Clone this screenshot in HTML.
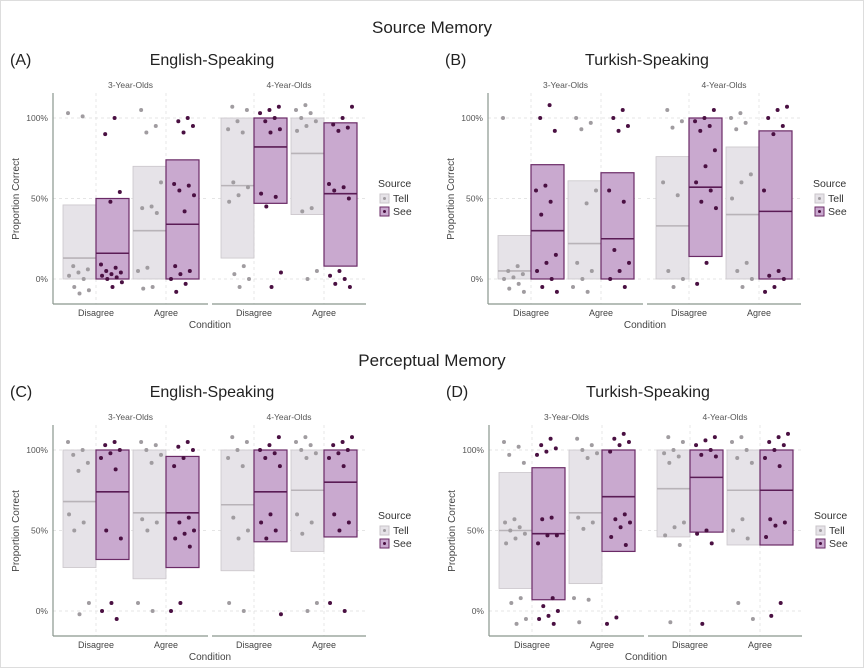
<!DOCTYPE html>
<html><head><meta charset="utf-8">
<style>
body{margin:0;background:#fff;}
svg{display:block;font-family:"Liberation Sans",sans-serif;}
</style></head>
<body>
<svg id="fig" width="864" height="668" viewBox="0 0 864 668">
<rect x="0.5" y="0.5" width="863" height="667" fill="#fff" stroke="#ddd"/>
<text x="432" y="33" font-size="17" text-anchor="middle" fill="#222">Source Memory</text>
<text x="432" y="366" font-size="17" text-anchor="middle" fill="#222">Perceptual Memory</text>
</svg>
<script>
// Stats per group: [lower, median, upper] in percent. Order: F1-Dis-Tell, F1-Dis-See, F1-Agr-Tell, F1-Agr-See, F2-Dis-Tell, F2-Dis-See, F2-Agr-Tell, F2-Agr-See
const boxesA=[[0,13,46],[0,16,50],[0,30,70],[0,34,74],[13,58,100],[47,82,100],[40,78,100],[8,53,97]];
const boxesB=[[0,5,27],[0,30,71],[0,22,61],[0,25,66],[0,33,76],[14,57,100],[0,40,82],[0,42,92]];
const boxesC=[[27,68,100],[32,74,100],[20,61,100],[27,61,96],[25,66,100],[43,74,100],[37,75,100],[46,80,100]];
const boxesD=[[14,50,86],[7,48,89],[17,61,100],[37,71,100],[46,76,100],[49,83,100],[41,75,100],[41,75,100]];
const pointsA=[[103,101,8,6,4,2,0,-5,-7,-9],[100,90,54,48,9,7,5,4,3,2,1,0,-2,-5],[105,95,91,60,45,44,41,7,5,-5,-6],[100,98,95,91,59,58,55,52,42,8,5,3,0,-3,-8],
[107,105,98,93,91,60,57,52,48,8,3,0,-5],[107,105,103,100,98,93,91,53,51,45,4,-5],[108,105,103,100,98,95,92,44,42,5,0],[107,100,96,94,92,59,57,55,50,5,2,0,-3,-5]];
const pointsB=[[100,8,5,3,1,0,-3,-6,-8],[108,100,92,58,55,48,40,15,10,5,0,-5,-8],[100,97,93,55,47,10,5,0,-5,-8],[105,100,95,92,55,48,18,10,5,0,-5],
[105,98,94,60,52,5,0,-5],[105,100,98,95,92,80,70,60,55,48,44,10,-3],[103,100,97,93,65,60,50,10,5,0,-5],[107,105,100,95,90,55,5,2,0,-5,-8]];
const pointsC=[[105,100,97,92,87,60,55,50,5,-2],[105,103,100,98,95,88,50,45,5,0,-5],[105,103,100,97,92,57,55,50,5,0],[105,102,100,95,90,58,55,50,48,45,40,5,0],
[108,105,100,95,90,58,50,45,5,0],[108,103,100,98,95,90,60,55,50,45,-2],[108,105,103,100,98,95,60,55,48,5,0],[108,105,103,100,98,95,90,60,55,50,5,0]];
const pointsD=[[105,102,97,92,57,55,52,50,48,45,42,8,5,-5,-8],[107,103,101,99,97,58,57,47,47,42,8,3,0,-3,-5,-8],[107,103,100,98,95,58,55,51,8,7,-7],[110,107,105,103,99,60,57,55,52,46,41,-4,-8],
[108,105,100,98,96,92,55,52,47,41,-7],[108,106,103,100,97,96,50,48,42,-8],[108,105,100,95,92,57,50,45,5,-5],[110,108,105,103,100,95,90,57,55,53,46,5,-3]];
const yTicks=[0,50,100];
const yTickLabels=["0%","50%","100%"];
const facetLabels=["3-Year-Olds","4-Year-Olds"];
const conditions=["Disagree","Agree"];
const sources=["Tell","See"];
const panels=[
 {id:"A",title:"English-Speaking",dx:0,dy:0,boxes:boxesA,pts:pointsA},
 {id:"B",title:"Turkish-Speaking",dx:435,dy:0,boxes:boxesB,pts:pointsB},
 {id:"C",title:"English-Speaking",dx:0,dy:332,boxes:boxesC,pts:pointsC},
 {id:"D",title:"Turkish-Speaking",dx:436,dy:332,boxes:boxesD,pts:pointsD}];
const NS="http://www.w3.org/2000/svg";
const fig=document.getElementById('fig');
function mk(tag,attrs,parent,txt){const e=document.createElementNS(NS,tag);for(const k in attrs)e.setAttribute(k,attrs[k]);if(txt!==undefined)e.textContent=txt;parent.appendChild(e);return e;}
const fill=["#e6e3e8","#c9a9cf"],stroke=["#cac5ca","#6a2a66"],ptc=["#a09ca0","#4a1042"],medc=["#b8b3b8","#5a1c55"];
panels.forEach(p=>{
 const g=mk('g',{transform:`translate(${p.dx},${p.dy})`},fig);
 
 
 const y=v=>279-v*1.61;
 const facetX=[[53,208],[212,366]];
 const catX=(f,c)=>[[96,166],[254,324]][f][c];
 let t=mk('text',{x:10,y:65,'font-size':16,fill:'#222'},g,'('+p.id+')');
 
 t=mk('text',{x:212,y:65,'font-size':16,'text-anchor':'middle',fill:'#222'},g,p.title);
 
 yTicks.forEach((v,i)=>{
  const l=mk('text',{x:48,y:y(v)+3,'font-size':8.5,'text-anchor':'end',fill:'#555'},g,yTickLabels[i]);
  
 });
 t=mk('text',{x:0,y:0,'font-size':10,'text-anchor':'middle',fill:'#444',transform:'translate(19,199) rotate(-90)'},g,'Proportion Correct');
 
 t=mk('text',{x:210,y:328,'font-size':10,'text-anchor':'middle',fill:'#444'},g,'Condition');
 
 facetX.forEach((fx,f)=>{
  const fl=mk('text',{x:(fx[0]+fx[1])/2,y:88,'font-size':8.5,'text-anchor':'middle',fill:'#555'},g,facetLabels[f]);
  
  yTicks.forEach(v=>{const gl=mk('line',{x1:fx[0],x2:fx[1],y1:y(v),y2:y(v),stroke:'#ddd','stroke-dasharray':'3,3','stroke-width':0.8},g);
   });
  conditions.forEach((c,ci)=>{const cx=catX(f,ci);
   const gl=mk('line',{x1:cx,x2:cx,y1:93,y2:304,stroke:'#e2e2e2','stroke-dasharray':'3,3','stroke-width':0.8},g);
   
   const xl=mk('text',{x:cx,y:316,'font-size':9,'text-anchor':'middle',fill:'#444'},g,c);
   
   sources.forEach((s,si)=>{
    const idx=f*4+ci*2+si;const b=p.boxes[idx];
    const x0=cx-33+si*33;
    const r=mk('rect',{x:x0,y:y(b[2]),width:33,height:y(b[0])-y(b[2]),fill:fill[si],stroke:stroke[si],'stroke-width':si?1.2:0.8},g);
    
    const m=mk('line',{x1:x0,x2:x0+33,y1:y(b[1]),y2:y(b[1]),stroke:medc[si],'stroke-width':1.6},g);
    
    p.pts[idx].forEach((v,k)=>{
     const j=((k*37+idx*13)%23)/22;
     const pt=mk('circle',{cx:x0+5+j*23,cy:y(v),r:2,fill:ptc[si]},g);
     
    });
   });
  });
  const ax=mk('line',{x1:fx[0],x2:fx[1],y1:304,y2:304,stroke:'#8a968e','stroke-width':1.2},g);
  
 });
 const ay=mk('line',{x1:53,x2:53,y1:93,y2:304,stroke:'#8a968e','stroke-width':1.2},g);
 
 t=mk('text',{x:378,y:187,'font-size':10.5,fill:'#333'},g,'Source');
 
 sources.forEach((s,si)=>{
  const k=mk('rect',{x:380,y:194+si*13,width:9,height:9,fill:fill[si],stroke:stroke[si]},g);
  
  const d=mk('circle',{cx:384.5,cy:198.5+si*13,r:1.5,fill:ptc[si]},g);
  
  const l=mk('text',{x:393,y:202+si*13,'font-size':10.5,fill:'#333'},g,s);
  
 });
});
</script>
</body></html>
